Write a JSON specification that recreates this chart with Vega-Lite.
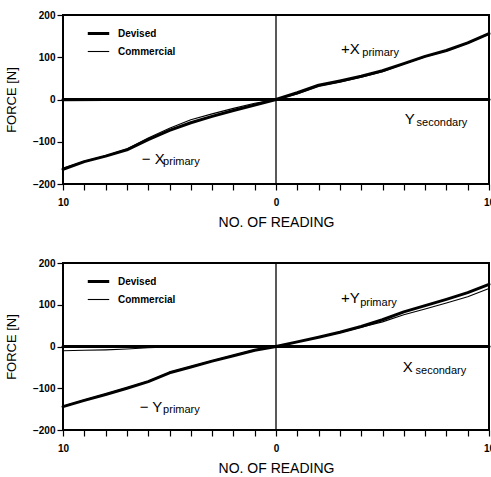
{
  "$schema": "https://vega.github.io/schema/vega-lite/v6.json",
  "background": "white",
  "padding": {"left": 4, "top": 9, "right": 0, "bottom": 0},
  "config": {
    "font": "Liberation Sans",
    "view": {"stroke": "black", "strokeWidth": 2},
    "axis": {
      "domain": false,
      "grid": false,
      "tickColor": "black",
      "tickSize": 6,
      "tickWidth": 1.2,
      "labelColor": "black",
      "labelFont": "Liberation Sans",
      "labelFontSize": 10,
      "labelFontWeight": "bold",
      "titleColor": "black",
      "titleFont": "Liberation Sans",
      "titleFontWeight": "normal"
    },
    "legend": {
      "labelFont": "Liberation Sans",
      "labelFontSize": 10,
      "labelFontWeight": "bold",
      "labelColor": "black",
      "labelOffset": 7
    }
  },
  "datasets": {
    "lines": [
      {"panel": "X", "series": "Devised", "component": "primary", "reading": -10, "force": -165},
      {"panel": "X", "series": "Devised", "component": "primary", "reading": -9, "force": -147},
      {"panel": "X", "series": "Devised", "component": "primary", "reading": -8, "force": -134},
      {"panel": "X", "series": "Devised", "component": "primary", "reading": -7, "force": -119},
      {"panel": "X", "series": "Devised", "component": "primary", "reading": -6, "force": -95},
      {"panel": "X", "series": "Devised", "component": "primary", "reading": -5, "force": -73},
      {"panel": "X", "series": "Devised", "component": "primary", "reading": -4, "force": -55},
      {"panel": "X", "series": "Devised", "component": "primary", "reading": -3, "force": -40},
      {"panel": "X", "series": "Devised", "component": "primary", "reading": -2, "force": -26},
      {"panel": "X", "series": "Devised", "component": "primary", "reading": -1, "force": -13},
      {"panel": "X", "series": "Devised", "component": "primary", "reading": 0, "force": 0},
      {"panel": "X", "series": "Devised", "component": "primary", "reading": 1, "force": 16},
      {"panel": "X", "series": "Devised", "component": "primary", "reading": 2, "force": 34},
      {"panel": "X", "series": "Devised", "component": "primary", "reading": 3, "force": 44},
      {"panel": "X", "series": "Devised", "component": "primary", "reading": 4, "force": 55},
      {"panel": "X", "series": "Devised", "component": "primary", "reading": 5, "force": 68},
      {"panel": "X", "series": "Devised", "component": "primary", "reading": 6, "force": 85},
      {"panel": "X", "series": "Devised", "component": "primary", "reading": 7, "force": 102},
      {"panel": "X", "series": "Devised", "component": "primary", "reading": 8, "force": 116},
      {"panel": "X", "series": "Devised", "component": "primary", "reading": 9, "force": 134},
      {"panel": "X", "series": "Devised", "component": "primary", "reading": 10, "force": 156},
      {"panel": "X", "series": "Devised", "component": "secondary", "reading": -10, "force": 0},
      {"panel": "X", "series": "Devised", "component": "secondary", "reading": -5, "force": 0},
      {"panel": "X", "series": "Devised", "component": "secondary", "reading": 0, "force": 0},
      {"panel": "X", "series": "Devised", "component": "secondary", "reading": 5, "force": 0},
      {"panel": "X", "series": "Devised", "component": "secondary", "reading": 10, "force": 0},
      {"panel": "X", "series": "Commercial", "component": "primary", "reading": -10, "force": -163},
      {"panel": "X", "series": "Commercial", "component": "primary", "reading": -9, "force": -146},
      {"panel": "X", "series": "Commercial", "component": "primary", "reading": -8, "force": -133},
      {"panel": "X", "series": "Commercial", "component": "primary", "reading": -7, "force": -117},
      {"panel": "X", "series": "Commercial", "component": "primary", "reading": -6, "force": -91},
      {"panel": "X", "series": "Commercial", "component": "primary", "reading": -5, "force": -68},
      {"panel": "X", "series": "Commercial", "component": "primary", "reading": -4, "force": -48},
      {"panel": "X", "series": "Commercial", "component": "primary", "reading": -3, "force": -34},
      {"panel": "X", "series": "Commercial", "component": "primary", "reading": -2, "force": -21},
      {"panel": "X", "series": "Commercial", "component": "primary", "reading": -1, "force": -9},
      {"panel": "X", "series": "Commercial", "component": "primary", "reading": 0, "force": 0},
      {"panel": "X", "series": "Commercial", "component": "primary", "reading": 1, "force": 13},
      {"panel": "X", "series": "Commercial", "component": "primary", "reading": 2, "force": 31},
      {"panel": "X", "series": "Commercial", "component": "primary", "reading": 3, "force": 41},
      {"panel": "X", "series": "Commercial", "component": "primary", "reading": 4, "force": 53},
      {"panel": "X", "series": "Commercial", "component": "primary", "reading": 5, "force": 66},
      {"panel": "X", "series": "Commercial", "component": "primary", "reading": 6, "force": 84},
      {"panel": "X", "series": "Commercial", "component": "primary", "reading": 7, "force": 101},
      {"panel": "X", "series": "Commercial", "component": "primary", "reading": 8, "force": 115},
      {"panel": "X", "series": "Commercial", "component": "primary", "reading": 9, "force": 133},
      {"panel": "X", "series": "Commercial", "component": "primary", "reading": 10, "force": 155},
      {"panel": "X", "series": "Commercial", "component": "secondary", "reading": -10, "force": -3},
      {"panel": "X", "series": "Commercial", "component": "secondary", "reading": -8, "force": -2},
      {"panel": "X", "series": "Commercial", "component": "secondary", "reading": -6, "force": -1},
      {"panel": "X", "series": "Commercial", "component": "secondary", "reading": -4, "force": 0},
      {"panel": "X", "series": "Commercial", "component": "secondary", "reading": 0, "force": 0},
      {"panel": "X", "series": "Commercial", "component": "secondary", "reading": 5, "force": 0},
      {"panel": "X", "series": "Commercial", "component": "secondary", "reading": 10, "force": 1},
      {"panel": "Y", "series": "Devised", "component": "primary", "reading": -10, "force": -144},
      {"panel": "Y", "series": "Devised", "component": "primary", "reading": -9, "force": -129},
      {"panel": "Y", "series": "Devised", "component": "primary", "reading": -8, "force": -115},
      {"panel": "Y", "series": "Devised", "component": "primary", "reading": -7, "force": -100},
      {"panel": "Y", "series": "Devised", "component": "primary", "reading": -6, "force": -84},
      {"panel": "Y", "series": "Devised", "component": "primary", "reading": -5, "force": -63},
      {"panel": "Y", "series": "Devised", "component": "primary", "reading": -4, "force": -49},
      {"panel": "Y", "series": "Devised", "component": "primary", "reading": -3, "force": -35},
      {"panel": "Y", "series": "Devised", "component": "primary", "reading": -2, "force": -22},
      {"panel": "Y", "series": "Devised", "component": "primary", "reading": -1, "force": -9},
      {"panel": "Y", "series": "Devised", "component": "primary", "reading": 0, "force": 0},
      {"panel": "Y", "series": "Devised", "component": "primary", "reading": 1, "force": 11},
      {"panel": "Y", "series": "Devised", "component": "primary", "reading": 2, "force": 22},
      {"panel": "Y", "series": "Devised", "component": "primary", "reading": 3, "force": 34},
      {"panel": "Y", "series": "Devised", "component": "primary", "reading": 4, "force": 48},
      {"panel": "Y", "series": "Devised", "component": "primary", "reading": 5, "force": 64},
      {"panel": "Y", "series": "Devised", "component": "primary", "reading": 6, "force": 83},
      {"panel": "Y", "series": "Devised", "component": "primary", "reading": 7, "force": 98},
      {"panel": "Y", "series": "Devised", "component": "primary", "reading": 8, "force": 113},
      {"panel": "Y", "series": "Devised", "component": "primary", "reading": 9, "force": 129},
      {"panel": "Y", "series": "Devised", "component": "primary", "reading": 10, "force": 149},
      {"panel": "Y", "series": "Devised", "component": "secondary", "reading": -10, "force": 0},
      {"panel": "Y", "series": "Devised", "component": "secondary", "reading": -5, "force": 0},
      {"panel": "Y", "series": "Devised", "component": "secondary", "reading": 0, "force": 0},
      {"panel": "Y", "series": "Devised", "component": "secondary", "reading": 5, "force": 0},
      {"panel": "Y", "series": "Devised", "component": "secondary", "reading": 10, "force": 0},
      {"panel": "Y", "series": "Commercial", "component": "primary", "reading": -10, "force": -143},
      {"panel": "Y", "series": "Commercial", "component": "primary", "reading": -9, "force": -128},
      {"panel": "Y", "series": "Commercial", "component": "primary", "reading": -8, "force": -114},
      {"panel": "Y", "series": "Commercial", "component": "primary", "reading": -7, "force": -99},
      {"panel": "Y", "series": "Commercial", "component": "primary", "reading": -6, "force": -83},
      {"panel": "Y", "series": "Commercial", "component": "primary", "reading": -5, "force": -62},
      {"panel": "Y", "series": "Commercial", "component": "primary", "reading": -4, "force": -48},
      {"panel": "Y", "series": "Commercial", "component": "primary", "reading": -3, "force": -34},
      {"panel": "Y", "series": "Commercial", "component": "primary", "reading": -2, "force": -21},
      {"panel": "Y", "series": "Commercial", "component": "primary", "reading": -1, "force": -8},
      {"panel": "Y", "series": "Commercial", "component": "primary", "reading": 0, "force": 0},
      {"panel": "Y", "series": "Commercial", "component": "primary", "reading": 1, "force": 11},
      {"panel": "Y", "series": "Commercial", "component": "primary", "reading": 2, "force": 22},
      {"panel": "Y", "series": "Commercial", "component": "primary", "reading": 3, "force": 33},
      {"panel": "Y", "series": "Commercial", "component": "primary", "reading": 4, "force": 46},
      {"panel": "Y", "series": "Commercial", "component": "primary", "reading": 5, "force": 59},
      {"panel": "Y", "series": "Commercial", "component": "primary", "reading": 6, "force": 76},
      {"panel": "Y", "series": "Commercial", "component": "primary", "reading": 7, "force": 90},
      {"panel": "Y", "series": "Commercial", "component": "primary", "reading": 8, "force": 104},
      {"panel": "Y", "series": "Commercial", "component": "primary", "reading": 9, "force": 119},
      {"panel": "Y", "series": "Commercial", "component": "primary", "reading": 10, "force": 139},
      {"panel": "Y", "series": "Commercial", "component": "secondary", "reading": -10, "force": -10},
      {"panel": "Y", "series": "Commercial", "component": "secondary", "reading": -9, "force": -9},
      {"panel": "Y", "series": "Commercial", "component": "secondary", "reading": -8, "force": -8},
      {"panel": "Y", "series": "Commercial", "component": "secondary", "reading": -7, "force": -6},
      {"panel": "Y", "series": "Commercial", "component": "secondary", "reading": -6, "force": -3},
      {"panel": "Y", "series": "Commercial", "component": "secondary", "reading": -5, "force": -1},
      {"panel": "Y", "series": "Commercial", "component": "secondary", "reading": -4, "force": 0},
      {"panel": "Y", "series": "Commercial", "component": "secondary", "reading": 0, "force": 0},
      {"panel": "Y", "series": "Commercial", "component": "secondary", "reading": 5, "force": -1},
      {"panel": "Y", "series": "Commercial", "component": "secondary", "reading": 10, "force": -1}
    ]
  },
  "spacing": 27,
  "resolve": {"legend": {"strokeWidth": "independent"}},
  "vconcat": [
    {
      "width": 426,
      "height": 169,
      "data": {"name": "lines"},
      "encoding": {
        "x": {"field": "reading", "type": "quantitative",
              "scale": {"domain": [-10, 10], "nice": false, "zero": false},
              "axis": {"values": [-10,-9,-8,-7,-6,-5,-4,-3,-2,-1,0,1,2,3,4,5,6,7,8,9,10],
                       "labelExpr": "datum.value % 10 === 0 ? format(abs(datum.value), 'd') : ''",
                       "labelPadding": 7, "labelFlush": false, "labelOverlap": false,
                       "title": "NO. OF READING", "titleFontSize": 14, "titlePadding": 8}},
        "y": {"field": "force", "type": "quantitative",
              "scale": {"domain": [-200, 200], "nice": false},
              "axis": {"values": [-200, -100, 0, 100, 200], "labelPadding": 2,
                       "title": "FORCE [N]", "titleFontSize": 13, "titlePadding": 14}}
      },
      "layer": [
        {"transform": [{"filter": "datum.panel === 'X' && datum.series === 'Devised' && datum.component === 'primary' && datum.reading === 0"}],
         "mark": {"type": "rule", "color": "black", "strokeWidth": 1.3},
         "encoding": {"y": null}},
        {"transform": [{"filter": "datum.panel === 'X' && datum.series === 'Devised'"}],
         "mark": {"type": "line", "color": "black", "strokeCap": "round", "strokeJoin": "round"},
         "encoding": {"detail": {"field": "component"},
                      "strokeWidth": {"field": "series", "type": "nominal",
                                      "scale": {"domain": ["Devised", "Commercial"], "range": [3, 1.1]},
                                      "legend": {"title": null, "orient": "none", "legendX": 23, "legendY": 6,
                                                 "symbolType": "stroke", "symbolSize": 460, "symbolStrokeColor": "black", "rowPadding": 0}}}},
        {"transform": [{"filter": "datum.panel === 'X' && datum.series === 'Commercial'"}],
         "mark": {"type": "line", "color": "black", "strokeCap": "round", "strokeJoin": "round"},
         "encoding": {"detail": {"field": "component"},
                      "strokeWidth": {"field": "series", "type": "nominal"}}},
        {"transform": [{"filter": "datum.panel === 'X' && datum.series === 'Devised' && datum.component === 'primary' && datum.reading === 0"}],
         "layer": [
           {"mark": {"type": "text", "text": "+X", "fontSize": 15, "align": "left", "baseline": "alphabetic", "color": "black"},
            "encoding": {"x": {"datum": 3.05}, "y": {"datum": 107}}},
           {"mark": {"type": "text", "text": "primary", "fontSize": 11, "align": "left", "baseline": "alphabetic", "color": "black"},
            "encoding": {"x": {"datum": 4.05}, "y": {"datum": 102}}},
           {"mark": {"type": "text", "text": "Y", "fontSize": 15, "align": "left", "baseline": "alphabetic", "color": "black"},
            "encoding": {"x": {"datum": 6.05}, "y": {"datum": -57}}},
           {"mark": {"type": "text", "text": "secondary", "fontSize": 11, "align": "left", "baseline": "alphabetic", "color": "black"},
            "encoding": {"x": {"datum": 6.6}, "y": {"datum": -63}}},
           {"mark": {"type": "text", "text": "− X", "fontSize": 15, "align": "left", "baseline": "alphabetic", "color": "black"},
            "encoding": {"x": {"datum": -6.3}, "y": {"datum": -152}}},
           {"mark": {"type": "text", "text": "primary", "fontSize": 11, "align": "left", "baseline": "alphabetic", "color": "black"},
            "encoding": {"x": {"datum": -5.3}, "y": {"datum": -156}}}
         ]}
      ]
    },
    {
      "width": 426,
      "height": 167,
      "data": {"name": "lines"},
      "encoding": {
        "x": {"field": "reading", "type": "quantitative",
              "scale": {"domain": [-10, 10], "nice": false, "zero": false},
              "axis": {"values": [-10,-9,-8,-7,-6,-5,-4,-3,-2,-1,0,1,2,3,4,5,6,7,8,9,10],
                       "labelExpr": "datum.value % 10 === 0 ? format(abs(datum.value), 'd') : ''",
                       "labelPadding": 7, "labelFlush": false, "labelOverlap": false,
                       "title": "NO. OF READING", "titleFontSize": 14, "titlePadding": 8}},
        "y": {"field": "force", "type": "quantitative",
              "scale": {"domain": [-200, 200], "nice": false},
              "axis": {"values": [-200, -100, 0, 100, 200], "labelPadding": 2,
                       "title": "FORCE [N]", "titleFontSize": 13, "titlePadding": 14}}
      },
      "layer": [
        {"transform": [{"filter": "datum.panel === 'Y' && datum.series === 'Devised' && datum.component === 'primary' && datum.reading === 0"}],
         "mark": {"type": "rule", "color": "black", "strokeWidth": 1.3},
         "encoding": {"y": null}},
        {"transform": [{"filter": "datum.panel === 'Y' && datum.series === 'Devised'"}],
         "mark": {"type": "line", "color": "black", "strokeCap": "round", "strokeJoin": "round"},
         "encoding": {"detail": {"field": "component"},
                      "strokeWidth": {"field": "series", "type": "nominal",
                                      "scale": {"domain": ["Devised", "Commercial"], "range": [3, 1.1]},
                                      "legend": {"title": null, "orient": "none", "legendX": 23, "legendY": 6,
                                                 "symbolType": "stroke", "symbolSize": 460, "symbolStrokeColor": "black", "rowPadding": 0}}}},
        {"transform": [{"filter": "datum.panel === 'Y' && datum.series === 'Commercial'"}],
         "mark": {"type": "line", "color": "black", "strokeCap": "round", "strokeJoin": "round"},
         "encoding": {"detail": {"field": "component"},
                      "strokeWidth": {"field": "series", "type": "nominal"}}},
        {"transform": [{"filter": "datum.panel === 'Y' && datum.series === 'Devised' && datum.component === 'primary' && datum.reading === 0"}],
         "layer": [
           {"mark": {"type": "text", "text": "+Y", "fontSize": 15, "align": "left", "baseline": "alphabetic", "color": "black"},
            "encoding": {"x": {"datum": 3.05}, "y": {"datum": 103}}},
           {"mark": {"type": "text", "text": "primary", "fontSize": 11, "align": "left", "baseline": "alphabetic", "color": "black"},
            "encoding": {"x": {"datum": 3.95}, "y": {"datum": 98}}},
           {"mark": {"type": "text", "text": "X", "fontSize": 15, "align": "left", "baseline": "alphabetic", "color": "black"},
            "encoding": {"x": {"datum": 5.95}, "y": {"datum": -60}}},
           {"mark": {"type": "text", "text": "secondary", "fontSize": 11, "align": "left", "baseline": "alphabetic", "color": "black"},
            "encoding": {"x": {"datum": 6.55}, "y": {"datum": -65}}},
           {"mark": {"type": "text", "text": "− Y", "fontSize": 15, "align": "left", "baseline": "alphabetic", "color": "black"},
            "encoding": {"x": {"datum": -6.4}, "y": {"datum": -156}}},
           {"mark": {"type": "text", "text": "primary", "fontSize": 11, "align": "left", "baseline": "alphabetic", "color": "black"},
            "encoding": {"x": {"datum": -5.3}, "y": {"datum": -160}}}
         ]}
      ]
    }
  ]
}
